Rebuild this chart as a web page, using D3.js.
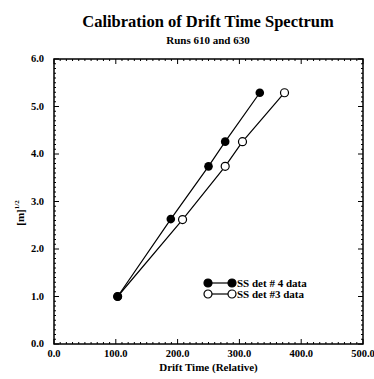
<!DOCTYPE html>
<html>
<head>
<meta charset="utf-8">
<script src="https://cdn.jsdelivr.net/npm/d3@7"></script>
<style>
  body { margin: 0; background: #fff; }
  text { font-family: "Liberation Serif", "Times New Roman", serif; font-weight: bold; fill: #000; }
</style>
</head>
<body>
<div id="chart"></div>
<script>
// data
const det4Time = [103, 189, 250, 277, 333];
const det4Val  = [1.0, 2.63, 3.74, 4.26, 5.29];
const det3Time = [103, 208, 277, 305, 373];
const det3Val  = [1.0, 2.62, 3.74, 4.26, 5.29];
const xTicks = [0, 100, 200, 300, 400, 500];
const yTicks = [0, 1, 2, 3, 4, 5, 6];
const seriesNames = ["SS det # 4 data", "SS det #3 data"];

const W = 374, H = 379;
const margin = { top: 59, right: 11, bottom: 35, left: 54 };
const width = W - margin.left - margin.right;
const height = H - margin.top - margin.bottom;

const svg = d3.select("#chart").append("svg")
    .attr("width", W).attr("height", H);

const g = svg.append("g").attr("transform", `translate(${margin.left},${margin.top})`);

const x = d3.scaleLinear().domain([0, 500]).range([0, width]);
const y = d3.scaleLinear().domain([0, 6]).range([height, 0]);

// frame
g.append("rect").attr("width", width).attr("height", height)
    .attr("fill", "none").attr("stroke", "#000").attr("stroke-width", 1.5);

// minor + major ticks, inward on all four sides
const xMinor = d3.range(0, 501, 10);
const yMinor = d3.range(0, 6.01, 0.1);
function tickLen(v, step) { return Math.abs(v / step - Math.round(v / step)) < 1e-6 ? 5 : 2; }

g.selectAll("line.xb").data(xMinor).enter().append("line")
    .attr("x1", d => x(d)).attr("x2", d => x(d))
    .attr("y1", height).attr("y2", d => height - tickLen(d, 100))
    .attr("stroke", "#000").attr("stroke-width", 1);
g.selectAll("line.xt").data(xMinor).enter().append("line")
    .attr("x1", d => x(d)).attr("x2", d => x(d))
    .attr("y1", 0).attr("y2", d => tickLen(d, 100))
    .attr("stroke", "#000").attr("stroke-width", 1);
g.selectAll("line.yl").data(yMinor).enter().append("line")
    .attr("y1", d => y(d)).attr("y2", d => y(d))
    .attr("x1", 0).attr("x2", d => tickLen(d, 1))
    .attr("stroke", "#000").attr("stroke-width", 1);
g.selectAll("line.yr").data(yMinor).enter().append("line")
    .attr("y1", d => y(d)).attr("y2", d => y(d))
    .attr("x1", width).attr("x2", d => width - tickLen(d, 1))
    .attr("stroke", "#000").attr("stroke-width", 1);

// tick labels
g.selectAll("text.xl").data(xTicks).enter().append("text")
    .attr("x", d => x(d)).attr("y", height + 13)
    .attr("text-anchor", "middle").style("font-size", "10.5px")
    .text(d => d.toFixed(1));
g.selectAll("text.yl").data(yTicks).enter().append("text")
    .attr("x", -10).attr("y", d => y(d) + 3)
    .attr("text-anchor", "end").style("font-size", "10.5px")
    .text(d => d.toFixed(1));

// series
const det4 = det4Time.map((t, i) => ({ t, v: det4Val[i] }));
const det3 = det3Time.map((t, i) => ({ t, v: det3Val[i] }));
const line = d3.line().x(d => x(d.t)).y(d => y(d.v));

g.append("path").datum(det4).attr("d", line)
    .attr("fill", "none").attr("stroke", "#000").attr("stroke-width", 1.2);
g.append("path").datum(det3).attr("d", line)
    .attr("fill", "none").attr("stroke", "#000").attr("stroke-width", 1.2);

g.selectAll("circle.d3").data(det3).enter().append("circle")
    .attr("cx", d => x(d.t)).attr("cy", d => y(d.v)).attr("r", 4)
    .attr("fill", "#fff").attr("stroke", "#000").attr("stroke-width", 1.2);
g.selectAll("circle.d4").data(det4).enter().append("circle")
    .attr("cx", d => x(d.t)).attr("cy", d => y(d.v)).attr("r", 4.3)
    .attr("fill", "#000");

// legend
const lg = svg.append("g").attr("transform", "translate(208,283)");
seriesNames.forEach((name, i) => {
    const row = lg.append("g").attr("transform", `translate(0,${i * 11})`);
    row.append("line").attr("x1", 0).attr("x2", 24).attr("y1", 0).attr("y2", 0)
        .attr("stroke", "#000").attr("stroke-width", 1.2);
    [0, 24].forEach(cx => {
        row.append("circle").attr("cx", cx).attr("cy", 0).attr("r", 4)
            .attr("fill", i === 0 ? "#000" : "#fff")
            .attr("stroke", "#000").attr("stroke-width", 1.2);
    });
    row.append("text").attr("x", 29).attr("y", 3.5)
        .style("font-size", "11px").text(name);
});

// titles
svg.append("text").attr("x", 208).attr("y", 27).attr("text-anchor", "middle")
    .style("font-size", "16.5px").text("Calibration of Drift Time Spectrum");
svg.append("text").attr("x", 208).attr("y", 44).attr("text-anchor", "middle")
    .style("font-size", "11px").text("Runs 610 and 630");
svg.append("text").attr("x", margin.left + width / 2).attr("y", 371).attr("text-anchor", "middle")
    .style("font-size", "11px").text("Drift Time (Relative)");

const yl = svg.append("text").attr("transform", "translate(24,213) rotate(-90)")
    .attr("text-anchor", "middle").style("font-size", "11px");
yl.append("tspan").text("[m]");
yl.append("tspan").attr("dy", -5).style("font-size", "7px").text("1/2");
</script>
</body>
</html>
